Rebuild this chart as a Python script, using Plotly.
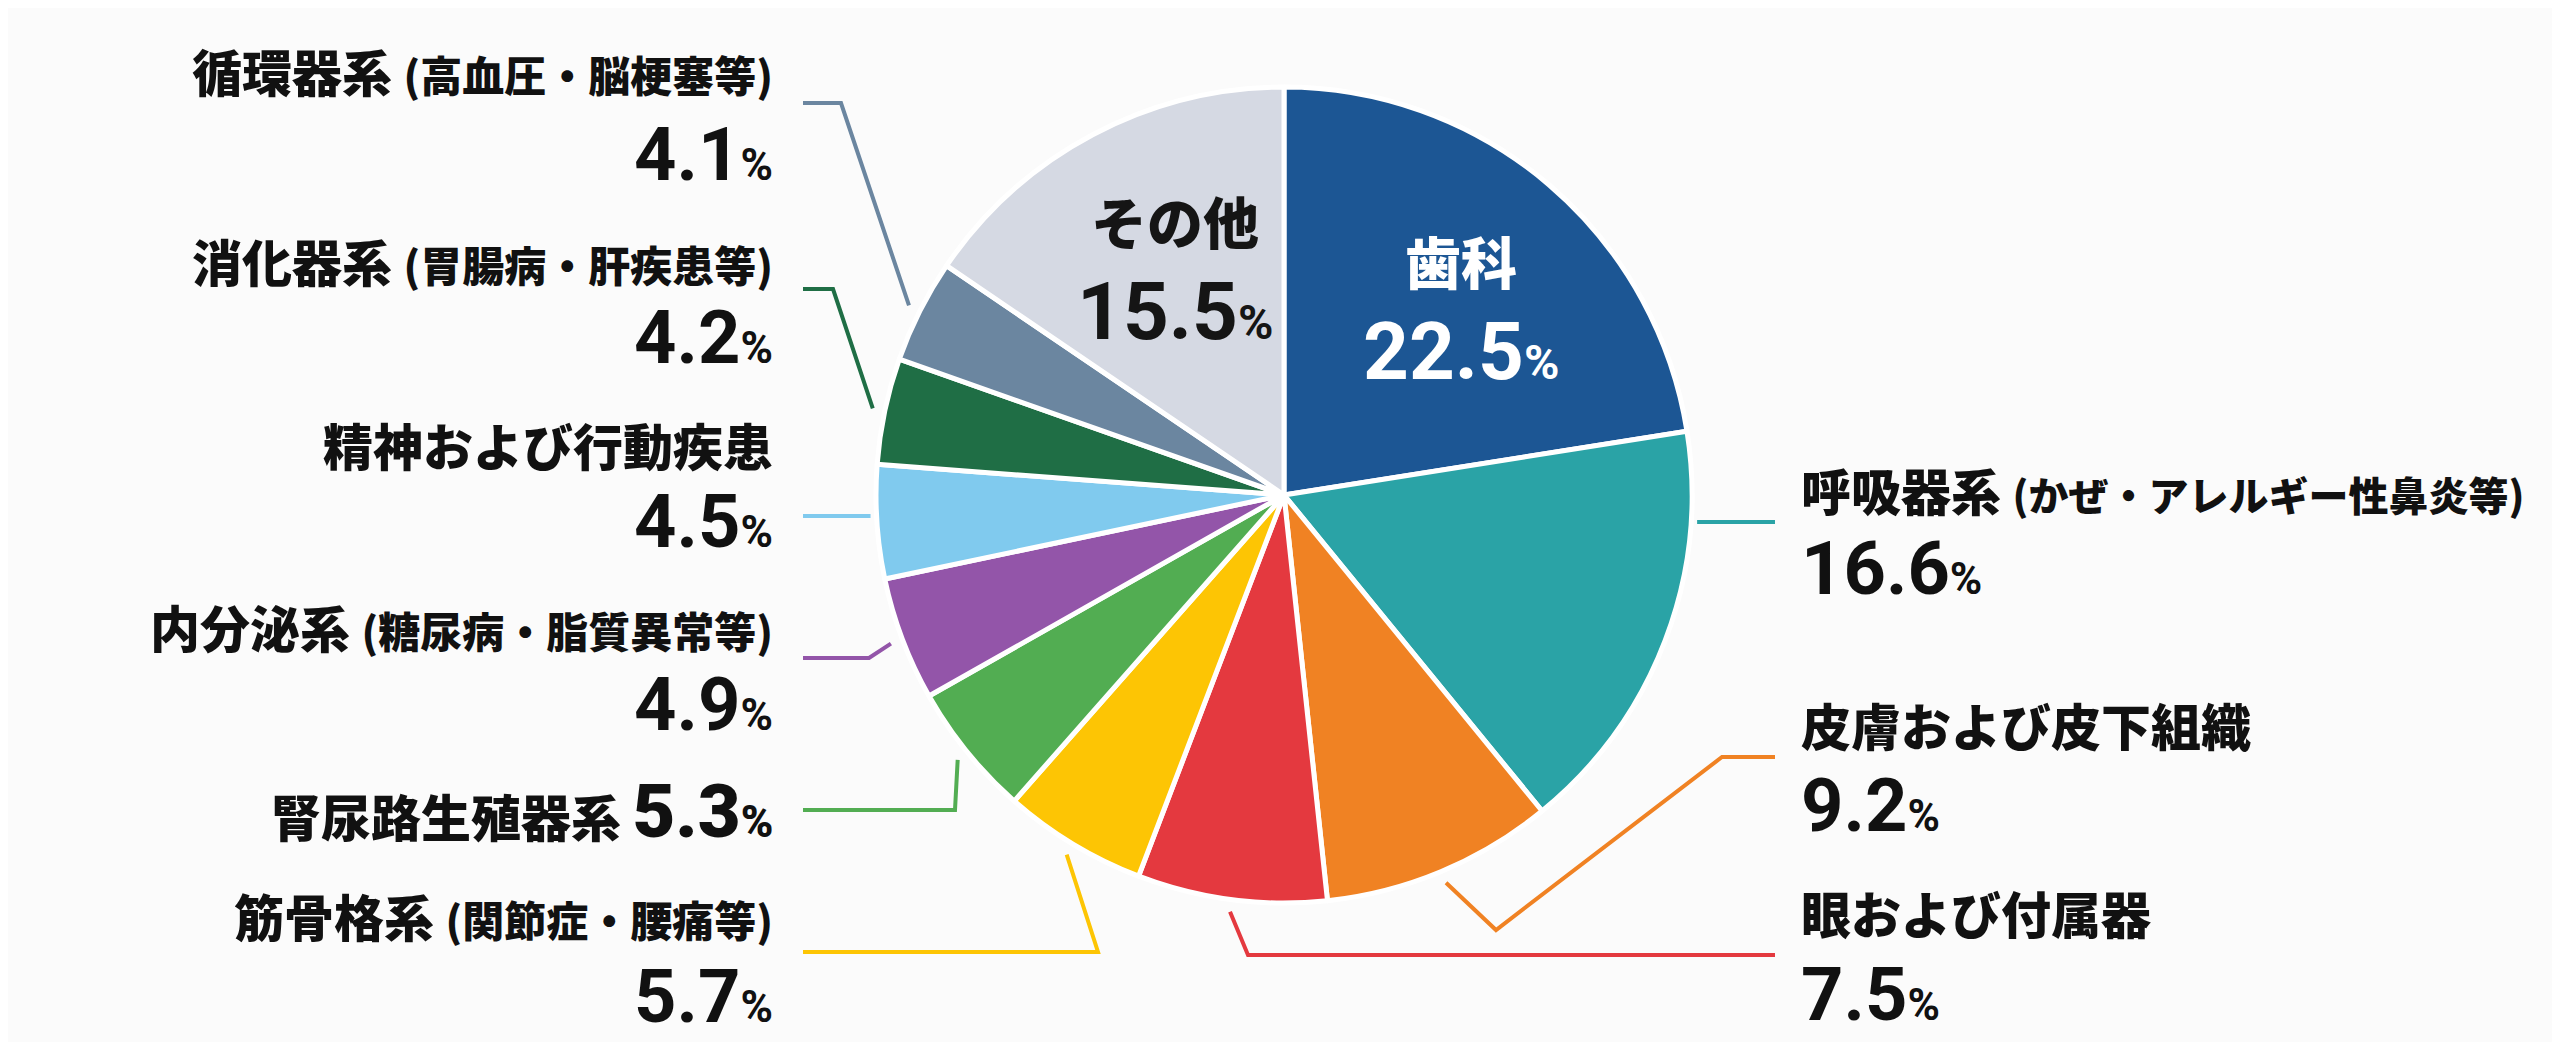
import math
import plotly.graph_objects as go

# data
categories = ["歯科", "呼吸器系", "皮膚および皮下組織", "眼および付属器", "筋骨格系",
              "腎尿路生殖器系", "内分泌系", "精神および行動疾患", "消化器系", "循環器系", "その他"]
notes = ["", "(かぜ・アレルギー性鼻炎等)", "", "", "(関節症・腰痛等)",
         "", "(糖尿病・脂質異常等)", "", "(胃腸病・肝疾患等)", "(高血圧・脳梗塞等)", ""]
values = [22.5, 16.6, 9.2, 7.5, 5.7, 5.3, 4.9, 4.5, 4.2, 4.1, 15.5]
colors = ["#1c5694", "#2aa3a6", "#f08223", "#e4393f", "#fdc504", "#52ad52",
          "#9355a9", "#80caee", "#1f6e45", "#6b86a0", "#d5d9e3"]

W, H = 2560, 1042
CX, CY, R = 1276, 487, 408

JP = "Noto Sans CJK JP"
NUM = "Roboto, Noto Sans CJK JP"


def px(x):
    return x / W


def py(y):
    return 1 - y / H


def pct_text(v, small=44):
    return f"{v}<span style='font-size:{small}px'>%</span>"


fig = go.Figure(go.Pie(
    labels=categories,
    values=values,
    sort=False,
    direction="clockwise",
    rotation=0,
    marker=dict(colors=colors, line=dict(color="white", width=5)),
    textinfo="none",
    hoverinfo="label+percent",
    domain=dict(x=[px(CX - R), px(CX + R)], y=[py(CY + R), py(CY - R)]),
    showlegend=False,
))

# slice mid angles (clockwise from 12 o'clock)
total = sum(values)
mids = []
acc = 0
for v in values:
    mids.append((acc + v / 2) / total * 360)
    acc += v


def edge_pt(i, k=1.02):
    a = math.radians(mids[i])
    return CX + k * R * math.sin(a), CY - k * R * math.cos(a)


def edge_at_y(y, side):
    dx = math.sqrt(max(R * R - (y - CY) ** 2, 0)) + 6
    return CX + side * dx


# label layout
LX_L, LX_R = 767, 1791
LINE_L, LINE_R = 795, 1767
layout_info = {
    9: dict(ny=62, py_=146, side=-1, line_y=95, elbow=[(833, 95)], ns=42),
    8: dict(ny=252, py_=329, side=-1, line_y=281, elbow=[(825, 281)], ns=42),
    7: dict(ny=436, py_=513, side=-1, line_y=508, elbow=None, ns=42),
    6: dict(ny=618, py_=696, side=-1, line_y=650, elbow=[(861, 650)], ns=42),
    5: dict(ny=803, py_=None, side=-1, line_y=802, elbow=[(947, 802)], ns=42),
    4: dict(ny=907, py_=988, side=-1, line_y=944, elbow=[(1090, 944)], ns=42),
    1: dict(ny=481, py_=560, side=1, line_y=514, elbow=None, ns=40),
    2: dict(ny=716, py_=797, side=1, line_y=749, elbow=[(1714, 749), (1488, 922)], ns=42),
    3: dict(ny=904, py_=986, side=1, line_y=947, elbow=[(1240, 947)], ns=42),
}

annotations = []
shapes = []
for i, info in layout_info.items():
    side = info["side"]
    x_text = LX_L if side < 0 else LX_R
    anchor = "right" if side < 0 else "left"
    name = categories[i]
    if notes[i]:
        name += f" <span style='font-size:{info['ns']}px'>{notes[i]}</span>"
    if info["py_"] is None:
        name += f" <span style='font-family:{NUM};font-size:74px'>{values[i]}</span>" \
                f"<span style='font-family:{NUM};font-size:44px'>%</span>"
    annotations.append(dict(x=px(x_text), y=py(info["ny"]), xref="paper", yref="paper",
                            text=name, showarrow=False, xanchor=anchor, yanchor="middle",
                            font=dict(family=JP, size=50, color="#111111", weight=900)))
    if info["py_"] is not None:
        annotations.append(dict(x=px(x_text), y=py(info["py_"]), xref="paper", yref="paper",
                                text=pct_text(values[i]), showarrow=False, xanchor=anchor,
                                yanchor="middle",
                                font=dict(family=NUM, size=74, color="#111111", weight=700)))

    # leader line
    x_end = LINE_L if side < 0 else LINE_R
    pts = [(x_end, info["line_y"])]
    if info["elbow"] is None:
        pts.append((edge_at_y(info["line_y"], side), info["line_y"]))
    else:
        pts += info["elbow"]
        pts.append(edge_pt(i, 1.03))
    path = "M " + " L ".join(f"{px(x):.5f},{py(y):.5f}" for x, y in pts)
    shapes.append(dict(type="path", path=path, xref="paper", yref="paper",
                       line=dict(color=colors[i], width=4)))

# inside labels
inside = {0: (1453, 251, 344, "white"), 10: (1167, 212, 304, "#151515")}
for i, (x, yn, yp, c) in inside.items():
    annotations.append(dict(x=px(x), y=py(yn), xref="paper", yref="paper", text=categories[i],
                            showarrow=False, xanchor="center", yanchor="middle",
                            font=dict(family=JP, size=56, color=c, weight=900)))
    annotations.append(dict(x=px(x), y=py(yp), xref="paper", yref="paper",
                            text=pct_text(values[i], small=48), showarrow=False,
                            xanchor="center", yanchor="middle",
                            font=dict(family=NUM, size=80, color=c, weight=700)))

fig.update_layout(
    width=W, height=H,
    margin=dict(l=0, r=0, t=0, b=0),
    paper_bgcolor="#fbfbfb",
    plot_bgcolor="#fbfbfb",
    annotations=annotations,
    shapes=shapes,
)

fig.write_html("out.html")
